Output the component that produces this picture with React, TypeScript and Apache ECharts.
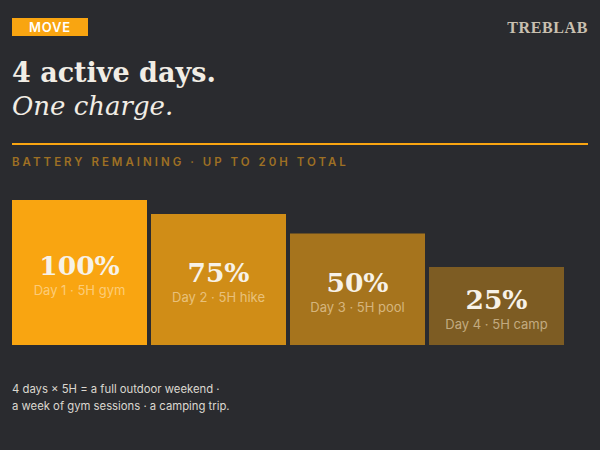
import React, { useEffect, useRef } from "react";
import * as echarts from "echarts";

const days = ["Day 1", "Day 2", "Day 3", "Day 4"];
const activities = ["5H gym", "5H hike", "5H pool", "5H camp"];
const batteryRemaining = [100, 75, 50, 25];
const barColors = ["#f9a511", "#d08d17", "#a6741d", "#7d5c23"];

const BG = "#2a2b2f";
const ORANGE = "#f9a511";

export default function App() {
  const ref = useRef<HTMLDivElement>(null);

  useEffect(() => {
    if (!ref.current) return;
    const chart = echarts.init(ref.current, undefined, { renderer: "svg" });

    const seriesData = batteryRemaining.map((v, i) => ({
      value: v,
      itemStyle: { color: barColors[i] },
    }));

    chart.setOption({
      animation: false,
      backgroundColor: BG,
      grid: { left: 10, right: 34, top: 200, bottom: 105 },
      xAxis: {
        type: "category",
        data: days,
        show: false,
      },
      yAxis: {
        type: "log",
        min: 5,
        max: 100,
        startValue: 5,
        show: false,
        splitLine: { show: false },
      },
      series: [
        {
          type: "bar",
          barWidth: 135,
          data: seriesData,
          label: {
            show: true,
            position: "inside",
            offset: [0, 3],
            formatter: (p: any) =>
              `{p|${p.value}%}\n{s|${days[p.dataIndex]} · ${activities[p.dataIndex]}}`,
            rich: {
              p: {
                fontFamily: "DejaVu Serif",
                fontWeight: "bold",
                fontSize: 26.5,
                color: "#f7f2e8",
                lineHeight: 29,
                align: "center",
              },
              s: {
                fontFamily: "Inter",
                fontSize: 13,
                color: "rgba(255,238,210,0.55)",
                lineHeight: 20,
                align: "center",
              },
            },
          },
        },
      ],
      graphic: [
        {
          type: "rect",
          shape: { x: 12, y: 18, width: 76, height: 18 },
          style: { fill: ORANGE },
        },
        {
          type: "text",
          x: 50,
          y: 27,
          style: {
            text: "MOVE",
            fill: "#ffffff",
            font: "600 13px Inter",
            align: "center",
            verticalAlign: "middle",
          },
        },
        {
          type: "text",
          x: 588,
          y: 27,
          style: {
            text: "TREBLAB",
            fill: "#c9c0b0",
            font: "bold 16px 'Liberation Serif'",
            align: "right",
            verticalAlign: "middle",
          },
        },
        {
          type: "text",
          x: 12,
          y: 72,
          style: {
            text: "4 active days.",
            fill: "#f1ede5",
            font: "bold 27px 'DejaVu Serif'",
            align: "left",
            verticalAlign: "middle",
          },
        },
        {
          type: "text",
          x: 12,
          y: 106,
          style: {
            text: "One charge.",
            fill: "#f1ede5",
            font: "italic 26px 'DejaVu Serif'",
            align: "left",
            verticalAlign: "middle",
          },
        },
        {
          type: "line",
          shape: { x1: 12, y1: 144, x2: 588, y2: 144 },
          style: { stroke: ORANGE, lineWidth: 2 },
        },
        {
          type: "text",
          x: 12,
          y: 161.5,
          style: {
            text: "BATTERY REMAINING · UP TO 20H TOTAL",
            fill: "#9e7024",
            font: "600 11.5px Inter",
            align: "left",
            verticalAlign: "middle",
          },
        },
        {
          type: "text",
          x: 12,
          y: 389,
          style: {
            text: "4 days × 5H = a full outdoor weekend ·",
            fill: "#dcd8d0",
            font: "11.3px Inter",
            align: "left",
            verticalAlign: "middle",
          },
        },
        {
          type: "text",
          x: 12,
          y: 406,
          style: {
            text: "a week of gym sessions · a camping trip.",
            fill: "#dcd8d0",
            font: "11.3px Inter",
            align: "left",
            verticalAlign: "middle",
          },
        },
      ],
    });

    const spacing: Record<string, string> = {
      "BATTERY REMAINING · UP TO 20H TOTAL": "3px",
      MOVE: "0.8px",
      TREBLAB: "0.6px",
    };
    const applySpacing = () => {
      const texts = ref.current?.querySelectorAll("text") || [];
      texts.forEach((t) => {
        const s = spacing[(t.textContent || "").trim()];
        if (s) (t as SVGTextElement).style.letterSpacing = s;
      });
    };
    applySpacing();
    chart.on("finished", applySpacing);

    return () => {
      chart.dispose();
    };
  }, []);

  return (
    <div
      ref={ref}
      style={{ position: "fixed", left: 0, top: 0, width: 600, height: 450 }}
    />
  );
}
